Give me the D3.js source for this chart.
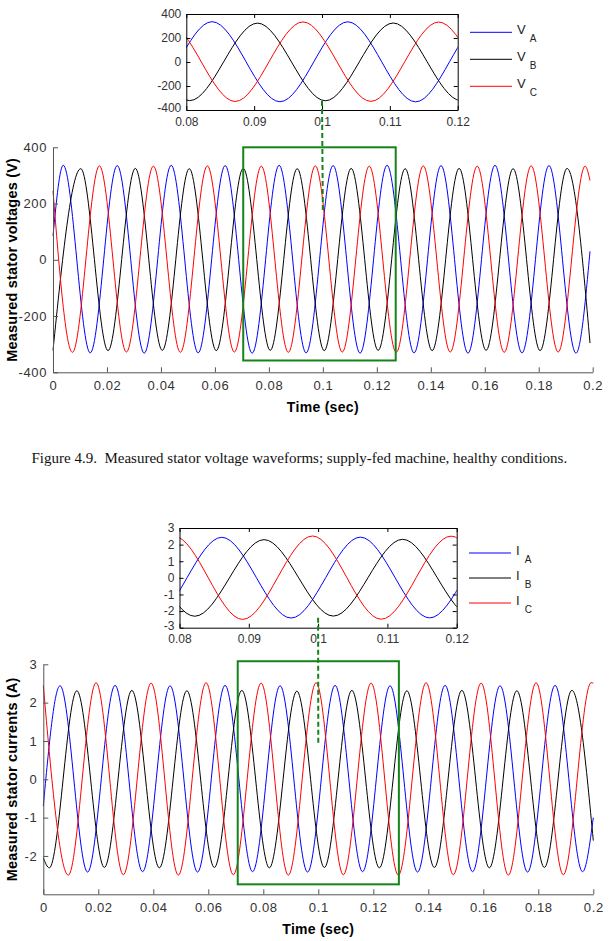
<!DOCTYPE html>
<html>
<head>
<meta charset="utf-8">
<script src="https://cdn.jsdelivr.net/npm/d3@7"></script>
<style>
  body { margin: 0; background: #fff; }
  text { font-family: Arial, "Liberation Sans", sans-serif; }
</style>
</head>
<body>
<div id="chart"></div>
<script>
// tick values
var timeTicks = [0, 0.02, 0.04, 0.06, 0.08, 0.1, 0.12, 0.14, 0.16, 0.18, 0.2];
var zoomTicks = [0.08, 0.09, 0.1, 0.11, 0.12];
var voltTicks = [-400, -200, 0, 200, 400];
var currTicks = [-2, -1, 0, 1, 2, 3];
var currZoomTicks = [-3, -2, -1, 0, 1, 2, 3];

// phase names / colours
var phases = ["A", "B", "C"];
var phaseColors = ["#0000ff", "#000000", "#ff0000"];

// stator voltages: [time, volts] at start, each peak / trough, end
var voltA = [[0, 85],
  [0.0038, 336], [0.0138, -331], [0.0238, 335], [0.0338, -332], [0.0438, 336],
  [0.0538, -331], [0.0638, 335], [0.0738, -332], [0.0838, 336], [0.0938, -331],
  [0.1038, 335], [0.1138, -332], [0.1238, 336], [0.1338, -331], [0.1438, 335],
  [0.1538, -332], [0.1638, 336], [0.1738, -331], [0.1838, 335], [0.1938, -332],
  [0.199, 30]];
var voltB = [[0, -322],
  [0.0103, 324], [0.0204, -323], [0.0305, 325], [0.0405, -322], [0.0505, 324],
  [0.0605, -323], [0.0705, 325], [0.0805, -322], [0.0905, 324], [0.1005, -323],
  [0.1105, 325], [0.1205, -322], [0.1305, 324], [0.1405, -323], [0.1505, 325],
  [0.1605, -322], [0.1705, 324], [0.1805, -323], [0.1905, 325],
  [0.199, -296]];
var voltC = [[0, 245],
  [0.0072, -329], [0.0172, 334], [0.0272, -328], [0.0372, 333], [0.0472, -329],
  [0.0572, 334], [0.0672, -328], [0.0772, 333], [0.0872, -329], [0.0972, 334],
  [0.1072, -328], [0.1172, 333], [0.1272, -329], [0.1372, 334], [0.1472, -328],
  [0.1572, 333], [0.1672, -329], [0.1772, 334], [0.1872, -328], [0.1972, 333],
  [0.199, 282]];

// stator currents: [time, amps]
var currA = [[0, -0.7],
  [0.0061, 2.44], [0.0161, -2.42], [0.0261, 2.45], [0.0361, -2.41], [0.0461, 2.44],
  [0.0561, -2.42], [0.0661, 2.45], [0.0761, -2.41], [0.0861, 2.44], [0.0961, -2.42],
  [0.1061, 2.45], [0.1161, -2.41], [0.1261, 2.44], [0.1361, -2.42], [0.1461, 2.45],
  [0.1561, -2.41], [0.1661, 2.44], [0.1761, -2.42], [0.1861, 2.45], [0.1961, -2.41],
  [0.2, -1.0]];
var currB = [[0, -2.05],
  [0.0022, -2.31], [0.0122, 2.31], [0.0222, -2.3], [0.0322, 2.32], [0.0422, -2.31],
  [0.0522, 2.31], [0.0622, -2.3], [0.0722, 2.32], [0.0822, -2.31], [0.0922, 2.3],
  [0.1022, -2.3], [0.1122, 2.32], [0.1222, -2.31], [0.1322, 2.31], [0.1422, -2.3],
  [0.1522, 2.32], [0.1622, -2.31], [0.1722, 2.31], [0.1822, -2.3], [0.1922, 2.32],
  [0.2, -1.6]];
var currC = [[0, 2.45],
  [0.0091, -2.5], [0.0192, 2.52], [0.0291, -2.49], [0.0392, 2.51], [0.0491, -2.5],
  [0.0592, 2.52], [0.0691, -2.49], [0.0792, 2.51], [0.0891, -2.5], [0.0992, 2.52],
  [0.1091, -2.49], [0.1192, 2.51], [0.1291, -2.5], [0.1392, 2.52], [0.1491, -2.49],
  [0.1592, 2.51], [0.1691, -2.5], [0.1792, 2.52], [0.1891, -2.49], [0.1992, 2.52],
  [0.2, 2.51]];

var caption = "Figure 4.9.  Measured stator voltage waveforms; supply-fed machine, healthy conditions.";

var svg = d3.select("#chart").append("svg")
  .attr("width", 612)
  .attr("height", 941);

var fmt = d => String(d);
var green = "#14841a";

function mainPlot(box, yDomain, yTicks, series, yLabel) {
  var x = d3.scaleLinear().domain([0, 0.2]).range([box.left, box.right]);
  var y = d3.scaleLinear().domain(yDomain).range([box.bottom, box.top]);
  var line = d3.line().x(d => x(d[0])).y(d => y(d[1])).curve(d3.curveMonotoneX);

  series.forEach(function(s, i) {
    svg.append("path")
      .datum(s)
      .attr("d", line)
      .attr("fill", "none")
      .attr("stroke", phaseColors[i])
      .attr("stroke-width", 1);
  });

  var gx = svg.append("g")
    .attr("transform", `translate(0, ${box.bottom})`)
    .call(d3.axisBottom(x).tickValues(timeTicks).tickFormat(fmt).tickSize(-5).tickSizeOuter(0).tickPadding(8));
  var gy = svg.append("g")
    .attr("transform", `translate(${box.left}, 0)`)
    .call(d3.axisLeft(y).tickValues(yTicks).tickFormat(fmt).tickSize(-5).tickSizeOuter(0).tickPadding(6));
  [gx, gy].forEach(function(g) {
    g.select(".domain").attr("stroke", "#555");
    g.selectAll(".tick line").attr("stroke", "#555");
    g.selectAll("text").attr("fill", "#333").style("font-size", "13px").style("letter-spacing", "0.6px");
  });

  svg.append("text")
    .attr("x", (box.left + box.right) / 2)
    .attr("y", box.bottom + 40)
    .attr("text-anchor", "middle")
    .style("font-size", "14px")
    .style("font-weight", "bold")
    .style("letter-spacing", "0.3px")
    .text("Time (sec)");

  svg.append("text")
    .attr("transform", `translate(17, ${(box.top + box.bottom) / 2}) rotate(-90)`)
    .attr("text-anchor", "middle")
    .style("font-size", "14.5px")
    .style("font-weight", "bold")
    .style("letter-spacing", "0.2px")
    .text(yLabel);

  return {x: x, y: y};
}

function insetPlot(box, yDomain, yTicks, series, sym, id) {
  var x = d3.scaleLinear().domain([0.08, 0.12]).range([box.left, box.right]);
  var y = d3.scaleLinear().domain(yDomain).range([box.bottom, box.top]);
  var line = d3.line().x(d => x(d[0])).y(d => y(d[1])).curve(d3.curveMonotoneX);

  svg.append("clipPath").attr("id", id)
    .append("rect")
    .attr("x", box.left).attr("y", box.top)
    .attr("width", box.right - box.left).attr("height", box.bottom - box.top);

  var g = svg.append("g").attr("clip-path", `url(#${id})`);
  series.forEach(function(s, i) {
    g.append("path")
      .datum(s)
      .attr("d", line)
      .attr("fill", "none")
      .attr("stroke", phaseColors[i])
      .attr("stroke-width", 1);
  });

  var axes = [
    svg.append("g").attr("transform", `translate(0, ${box.bottom})`)
      .call(d3.axisBottom(x).tickValues(zoomTicks).tickFormat(fmt).tickSize(-4).tickSizeOuter(0).tickPadding(7)),
    svg.append("g").attr("transform", `translate(${box.left}, 0)`)
      .call(d3.axisLeft(y).tickValues(yTicks).tickFormat(fmt).tickSize(-4).tickSizeOuter(0).tickPadding(5)),
    svg.append("g").attr("transform", `translate(0, ${box.top})`)
      .call(d3.axisTop(x).tickValues(zoomTicks).tickFormat("").tickSize(-4).tickSizeOuter(0)),
    svg.append("g").attr("transform", `translate(${box.right}, 0)`)
      .call(d3.axisRight(y).tickValues(yTicks).tickFormat("").tickSize(-4).tickSizeOuter(0))
  ];
  axes.forEach(function(a) {
    a.select(".domain").attr("stroke", "#000");
    a.selectAll(".tick line").attr("stroke", "#000");
    a.selectAll("text").attr("fill", "#333").style("font-size", "12px");
  });
  // lowest y label sits just above the x labels
  axes[1].selectAll(".tick text").filter(d => d === yDomain[0]).attr("dy", "0.15em");

  // legend
  phases.forEach(function(p, i) {
    var ly = box.legendTop + i * box.legendStep;
    svg.append("line")
      .attr("x1", box.legendX).attr("x2", box.legendX + 42)
      .attr("y1", ly).attr("y2", ly)
      .attr("stroke", phaseColors[i]).attr("stroke-width", 1);
    var t = svg.append("text")
      .attr("x", box.legendX + 47)
      .attr("y", ly + 2)
      .attr("fill", "#222")
      .style("font-size", "13px");
    t.append("tspan").text(sym);
    t.append("tspan").attr("dx", sym === "V" ? 4 : 5).attr("dy", 8).style("font-size", "10px").text(p);
  });

  return {x: x, y: y};
}

// ---- voltage figure ----
var vBox = {left: 53, right: 592.7, top: 147.3, bottom: 372.3};
var vMain = mainPlot(vBox, [-400, 400], voltTicks, [voltA, voltB, voltC], "Measured stator voltages (V)");
var vInsetBox = {left: 186.3, right: 457.7, top: 14, bottom: 110, legendX: 470, legendTop: 32.3, legendStep: 27};
var vInset = insetPlot(vInsetBox, [-400, 400], voltTicks, [voltA, voltB, voltC], "V", "clipV");

svg.append("rect")
  .attr("x", vMain.x(0.0705)).attr("y", vMain.y(400))
  .attr("width", vMain.x(0.127) - vMain.x(0.0705))
  .attr("height", vMain.y(-358) - vMain.y(400))
  .attr("fill", "none").attr("stroke", green).attr("stroke-width", 2);
svg.append("line")
  .attr("x1", vInset.x(0.1)).attr("y1", vInset.y(-325))
  .attr("x2", vMain.x(0.1)).attr("y2", vMain.y(177))
  .attr("stroke", green).attr("stroke-width", 2).attr("stroke-dasharray", "5,3");

svg.append("text")
  .attr("x", 31.5).attr("y", 463)
  .attr("xml:space", "preserve")
  .style("white-space", "pre")
  .style("font-family", "'Liberation Serif', 'Times New Roman', serif")
  .style("font-size", "15px")
  .attr("fill", "#111")
  .text(caption);

// ---- current figure ----
var cBox = {left: 43.3, right: 593.3, top: 664.3, bottom: 894.3};
var cMain = mainPlot(cBox, [-3, 3], currTicks, [currA, currB, currC], "Measured stator currents (A)");
var cInsetBox = {left: 179.5, right: 456.7, top: 528, bottom: 627.7, legendX: 469, legendTop: 553, legendStep: 25};
var cInset = insetPlot(cInsetBox, [-3, 3], currZoomTicks, [currA, currB, currC], "I", "clipI");

svg.append("rect")
  .attr("x", cMain.x(0.0707)).attr("y", cMain.y(3.08))
  .attr("width", cMain.x(0.1293) - cMain.x(0.0707))
  .attr("height", cMain.y(-2.74) - cMain.y(3.08))
  .attr("fill", "none").attr("stroke", green).attr("stroke-width", 2);
svg.append("line")
  .attr("x1", cInset.x(0.1)).attr("y1", cInset.y(-2.4))
  .attr("x2", cMain.x(0.1)).attr("y2", cMain.y(0.95))
  .attr("stroke", green).attr("stroke-width", 2).attr("stroke-dasharray", "5,3");
</script>
</body>
</html>
